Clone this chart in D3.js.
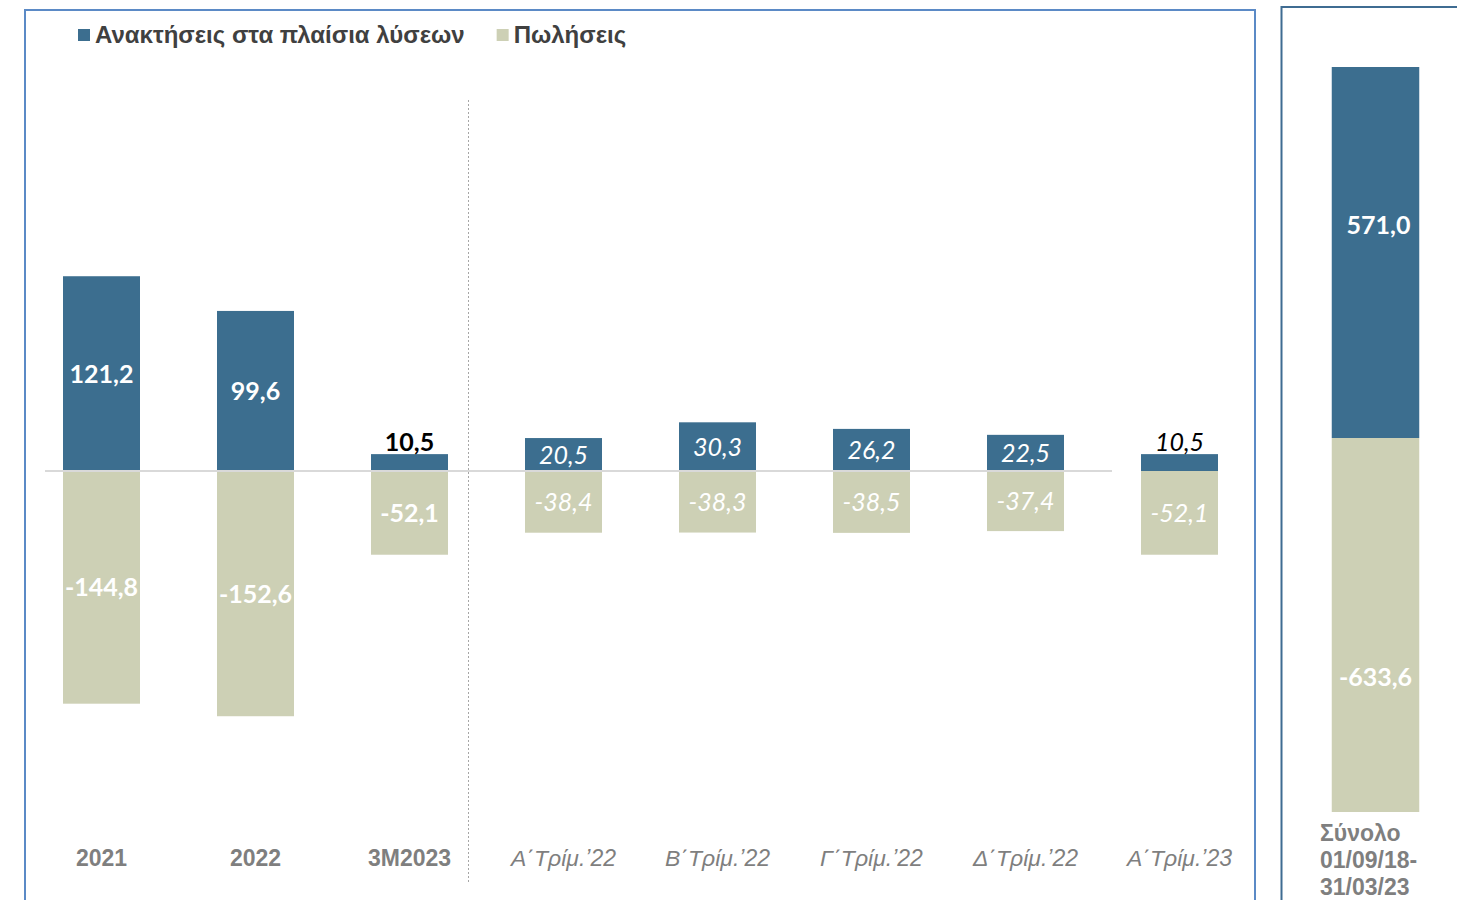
<!DOCTYPE html>
<html>
<head>
<meta charset="utf-8">
<style>
    body { margin: 0; background: #ffffff; }
    svg { display: block; }
    .cat { font-family: "Liberation Sans", Arial, sans-serif; font-size: 23px; fill: #7f7f7f; }
    .val { font-family: Lato, "Open Sans", sans-serif; font-size: 25px; }
</style>
</head>
<body>
<svg id="container" width="1457" height="900"></svg>

<script src="https://cdn.jsdelivr.net/npm/d3@7"></script>
<script>
    // chart data
    let categories = ["2021", "2022", "3M2023", "Α΄Τρίμ.’22", "Β΄Τρίμ.’22", "Γ΄Τρίμ.’22", "Δ΄Τρίμ.’22", "Α΄Τρίμ.’23"]
    let recoveries = [121.2, 99.6, 10.5, 20.5, 30.3, 26.2, 22.5, 10.5]
    let sales = [-144.8, -152.6, -52.1, -38.4, -38.3, -38.5, -37.4, -52.1]
    let italicCats = ["Α΄Τρίμ.’22", "Β΄Τρίμ.’22", "Γ΄Τρίμ.’22", "Δ΄Τρίμ.’22", "Α΄Τρίμ.’23"]

    let totalCategory = ["Σύνολο 01/09/18- 31/03/23"]
    let totalLabelLines = ["Σύνολο", "01/09/18-", "31/03/23"]
    let totalRecoveries = [571.0]
    let totalSales = [-633.6]

    let seriesNames = ["Ανακτήσεις στα πλαίσια λύσεων", "Πωλήσεις"]
    let blue = "#3c6e8f"
    let beige = "#cdd0b5"

    let fmt = v => d3.format(".1f")(v).replace(".", ",").replace("−", "-")

    let svg = d3.select("#container")

    // panel frames
    svg.append("rect")
        .attr("x", 25).attr("y", 10).attr("width", 1230).attr("height", 900)
        .attr("fill", "none").attr("stroke", "#5b8ac6").attr("stroke-width", 2)
    svg.append("rect")
        .attr("x", 1281.5).attr("y", 7).attr("width", 200).attr("height", 900)
        .attr("fill", "none").attr("stroke", "#3f6c92").attr("stroke-width", 2)

    // ---- left chart ----
    let x = d3.scaleBand()
        .domain(categories)
        .range([24.5, 1256.5])
        .paddingInner(0.5)
        .paddingOuter(0.25)

    let y = d3.scaleLinear()
        .domain([-160, 140])
        .range([471 + 160 * 1.607, 471 - 140 * 1.607])

    let rows = categories.map((c, i) => ({ cat: c, pos: recoveries[i], neg: sales[i], italic: italicCats.includes(c) }))

    let g = svg.append("g")

    g.selectAll(".neg")
        .data(rows)
        .enter()
        .append("rect")
        .attr("x", d => x(d.cat))
        .attr("width", x.bandwidth())
        .attr("y", y(0))
        .attr("height", d => y(d.neg) - y(0))
        .attr("fill", beige)

    g.selectAll(".pos")
        .data(rows)
        .enter()
        .append("rect")
        .attr("x", d => x(d.cat))
        .attr("width", x.bandwidth())
        .attr("y", d => y(d.pos))
        .attr("height", d => y(0) - y(d.pos))
        .attr("fill", blue)

    // zero line
    g.append("line")
        .attr("x1", 45).attr("x2", 1112)
        .attr("y1", y(0)).attr("y2", y(0))
        .attr("stroke", "#d9d9d9").attr("stroke-width", 2)

    // separator
    g.append("line")
        .attr("x1", 468.5).attr("x2", 468.5)
        .attr("y1", 100).attr("y2", 882)
        .attr("stroke", "#a6a6a6").attr("stroke-width", 1)
        .attr("stroke-dasharray", "2,2")

    // value labels
    g.selectAll(".posLabel")
        .data(rows)
        .enter()
        .append("text")
        .attr("class", "val")
        .attr("x", d => x(d.cat) + x.bandwidth() / 2)
        .attr("y", d => d.pos < 15 ? y(d.pos) - 3 : (y(d.pos) + y(0)) / 2 + 9)
        .attr("text-anchor", "middle")
        .attr("font-weight", d => d.italic ? "normal" : "bold")
        .attr("font-style", d => d.italic ? "italic" : "normal")
        .attr("fill", d => d.pos < 15 ? "#000000" : "#ffffff")
        .text(d => fmt(d.pos))

    g.selectAll(".negLabel")
        .data(rows)
        .enter()
        .append("text")
        .attr("class", "val")
        .attr("x", d => x(d.cat) + x.bandwidth() / 2)
        .attr("y", d => (y(d.neg) + y(0)) / 2 + 9)
        .attr("text-anchor", "middle")
        .attr("font-weight", d => d.italic ? "normal" : "bold")
        .attr("font-style", d => d.italic ? "italic" : "normal")
        .attr("fill", "#ffffff")
        .text(d => fmt(d.neg))

    // category labels
    g.selectAll(".cat")
        .data(rows)
        .enter()
        .append("text")
        .attr("class", "cat")
        .attr("x", d => x(d.cat) + x.bandwidth() / 2)
        .attr("y", 866)
        .attr("text-anchor", "middle")
        .attr("font-weight", d => d.italic ? "normal" : "bold")
        .attr("font-style", d => d.italic ? "italic" : "normal")
        .text(d => d.cat)

    // legend
    let legend = svg.append("g").attr("transform", "translate(78,29)")
    let lx = 0
    seriesNames.forEach((name, i) => {
        legend.append("rect")
            .attr("x", lx).attr("y", 0).attr("width", 12).attr("height", 12)
            .attr("fill", i == 0 ? blue : beige)
        let t = legend.append("text")
            .attr("x", lx + 17).attr("y", 14)
            .attr("font-family", "Liberation Sans, Arial, sans-serif")
            .attr("font-size", 24).attr("font-weight", "bold")
            .attr("fill", "#404040")
            .text(name)
        lx += 17 + t.node().getComputedTextLength() + 32
    })

    // ---- right chart (total) ----
    let xR = d3.scaleBand()
        .domain(totalCategory)
        .range([1288, 1463])
        .paddingInner(0.5)
        .paddingOuter(0.25)

    let yR = d3.scaleLinear()
        .domain([-633.6, 0, 571])
        .range([812, 438, 67])

    let tot = totalCategory.map((c, i) => ({ cat: c, pos: totalRecoveries[i], neg: totalSales[i] }))
    let gR = svg.append("g")

    gR.selectAll(".negT").data(tot).enter().append("rect")
        .attr("x", d => xR(d.cat)).attr("width", xR.bandwidth())
        .attr("y", yR(0)).attr("height", d => yR(d.neg) - yR(0))
        .attr("fill", beige)
    gR.selectAll(".posT").data(tot).enter().append("rect")
        .attr("x", d => xR(d.cat)).attr("width", xR.bandwidth())
        .attr("y", d => yR(d.pos)).attr("height", d => yR(0) - yR(d.pos))
        .attr("fill", blue)

    gR.selectAll(".posTL").data(tot).enter().append("text")
        .attr("class", "val").attr("font-weight", "bold").attr("fill", "#ffffff")
        .attr("text-anchor", "middle")
        .attr("x", d => xR(d.cat) + xR.bandwidth() / 2 + 3)
        .attr("y", d => (yR(d.pos) + yR(0)) / 2 - 19)
        .text(d => fmt(d.pos))
    gR.selectAll(".negTL").data(tot).enter().append("text")
        .attr("class", "val").attr("font-weight", "bold").attr("fill", "#ffffff")
        .attr("text-anchor", "middle")
        .attr("x", d => xR(d.cat) + xR.bandwidth() / 2)
        .attr("y", d => (yR(d.neg) + yR(0)) / 2 + 61)
        .text(d => fmt(d.neg))

    gR.append("text")
        .attr("class", "cat")
        .attr("font-size", 22)
        .attr("font-weight", "bold")
        .selectAll("tspan")
        .data(totalLabelLines)
        .enter()
        .append("tspan")
        .attr("x", 1320)
        .attr("y", (d, i) => 841 + i * 27)
        .text(d => d)
</script>
</body>
</html>
